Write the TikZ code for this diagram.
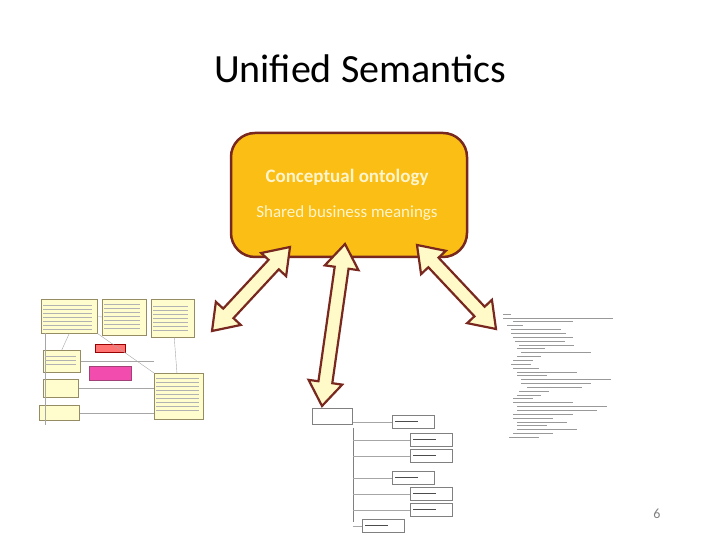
\documentclass[tikz,border=0pt]{standalone}
\usepackage{fontspec}
\setmainfont{Carlito}
\usetikzlibrary{calc}
\definecolor{boxfill}{RGB}{250,190,20}
\definecolor{boxline}{RGB}{120,40,30}
\definecolor{arrfill}{RGB}{255,250,200}
\definecolor{txtc}{RGB}{255,245,205}
\definecolor{umlfill}{RGB}{255,252,205}
\definecolor{umlline}{RGB}{150,140,100}
\tikzset{
  bigarrow/.style={fill=arrfill,draw=boxline,line width=2.2pt,line join=miter},
  umlbox/.style={fill=umlfill,draw=umlline,line width=0.5pt},
  schbox/.style={fill=white,draw=gray,line width=0.5pt},
  thin/.style={draw=gray!70,line width=0.4pt}
}
\newcommand{\dblarrow}[2]{%
  \path let \p1=($(#2)-(#1)$), \n1={veclen(\x1,\y1)}, \n2={atan2(\y1,\x1)} in
    [bigarrow,shift={(#1)},rotate=\n2]
    (0,0) -- (24,17) -- (24,7) -- (\n1-24,7) -- (\n1-24,17) -- (\n1,0)
    -- (\n1-24,-17) -- (\n1-24,-7) -- (24,-7) -- (24,-17) -- cycle;}
\begin{document}
\begin{tikzpicture}[x=1pt,y=1pt]
\useasboundingbox (0,0) rectangle (720,540);
\node (title) at (360,471) {\fontsize{40}{46}\selectfont Unified Semantics};
% UML diagram
\begin{scope}
\node[umlbox,minimum width=56,minimum height=34,anchor=north west] (u1) at (41,241) {};
\node[umlbox,minimum width=44,minimum height=36,anchor=north west] (u2) at (102,241) {};
\node[umlbox,minimum width=43,minimum height=38,anchor=north west] (u3) at (151,241) {};
\node[umlbox,minimum width=37,minimum height=22,anchor=north west] (u4) at (43,190) {};
\node[umlbox,minimum width=35,minimum height=18,anchor=north west] (u5) at (43,161) {};
\node[umlbox,minimum width=40,minimum height=15,anchor=north west] (u6) at (39,135) {};
\node[umlbox,minimum width=49,minimum height=46,anchor=north west] (u7) at (154,167) {};
\node[fill=red!55,draw=red!60!black,line width=0.3pt,minimum width=30,minimum height=8,anchor=north west] (u8) at (95,196) {};
\node[fill=magenta!70,draw=magenta!60!black,line width=0.3pt,minimum width=42,minimum height=14,anchor=north west] (u9) at (89,174) {};
\draw[thin] (u1) -- (u2);
\draw[thin] (u3) -- (u7);
\draw[thin] (u1.south) -- (u4.north);
\draw[thin] (u4.east) -- (u7.west |- u4.east);
\draw[thin] (u5.east) -- (u7.west |- u5.east);
\draw[thin] (u6.east) -- (u7.west |- u6.east);
\draw[thin] (u1.south east) -- (u7.north west);
\draw[thin] (u1.south west) ++(4,0) -- (45,115);
\foreach \y in {235,231,227,223,219,215,211}{\draw[gray!60,line width=0.3pt] (43,\y) -- (92,\y);}
\foreach \y in {236,232,228,224,220,216,212}{\draw[gray!60,line width=0.3pt] (104,\y) -- (140,\y);}
\foreach \y in {234,230,226,222,218,214,210}{\draw[gray!60,line width=0.3pt] (153,\y) -- (188,\y);}
\foreach \y in {184,180,176}{\draw[gray!60,line width=0.3pt] (45,\y) -- (76,\y);}
\foreach \y in {162,158,154,150,146,142,138,134,130}{\draw[gray!60,line width=0.3pt] (156,\y) -- (199,\y);}
\end{scope}
% schema
\begin{scope}
\node[schbox,minimum width=40,minimum height=16] (s0) at (332,124) {};
\draw[gray,line width=0.6pt] (353,112) -- (353,18);
\foreach \y/\xo in {118/392,100/410,84/410,62/392,46/410,30/410,14/362}{
  \node[schbox,minimum width=42,minimum height=13,anchor=west] at (\xo,\y) {};
  \draw[gray!70,line width=0.3pt] (353,\y) -- (\xo,\y);
  \draw[black!70,line width=0.7pt] (\xo+3,\y+1) -- (\xo+26,\y+1);
}
\end{scope}
% XML text
\begin{scope}
\foreach \i/\ind/\len in {0/0/8,1/0/110,2/10/60,3/4/16,4/8/50,5/8/55,6/10/60,7/12/50,8/16/55,9/14/28,10/18/70,11/14/24,12/10/20,13/8/20,14/10/26,15/14/60,16/14/30,17/18/90,18/18/70,19/24/55,20/16/30,21/14/24,22/10/20,23/10/60,24/14/90,25/14/80,26/10/60,27/10/40,28/14/50,29/14/30,30/14/60,31/10/40,32/6/30}{
  \draw[gray!80,line width=0.4pt] (503+\ind,226-3.85*\i) -- (503+\ind+\len,226-3.85*\i);}
\end{scope}
% box
\node[draw=boxline,fill=boxfill,line width=2.5pt,rounded corners=24pt,minimum width=236,minimum height=124] (box) at (349,345) {};
\node[text=txtc,font=\bfseries\fontsize{19}{22}\selectfont] (c1) at (347,363) {Conceptual ontology};
\node[text=txtc,font=\fontsize{17}{20}\selectfont] (c2) at (347,327) {Shared business meanings};
% arrows
\coordinate (a1) at (290,293); \coordinate (b1) at (212,209);
\coordinate (a2) at (345,296); \coordinate (b2) at (322,134);
\coordinate (a3) at (417,295); \coordinate (b3) at (496,211);
\dblarrow{a1}{b1}
\dblarrow{a2}{b2}
\dblarrow{a3}{b3}
\node[text=gray] (num) at (657,26) {\fontsize{14}{16}\selectfont 6};
\end{tikzpicture}
\end{document}
